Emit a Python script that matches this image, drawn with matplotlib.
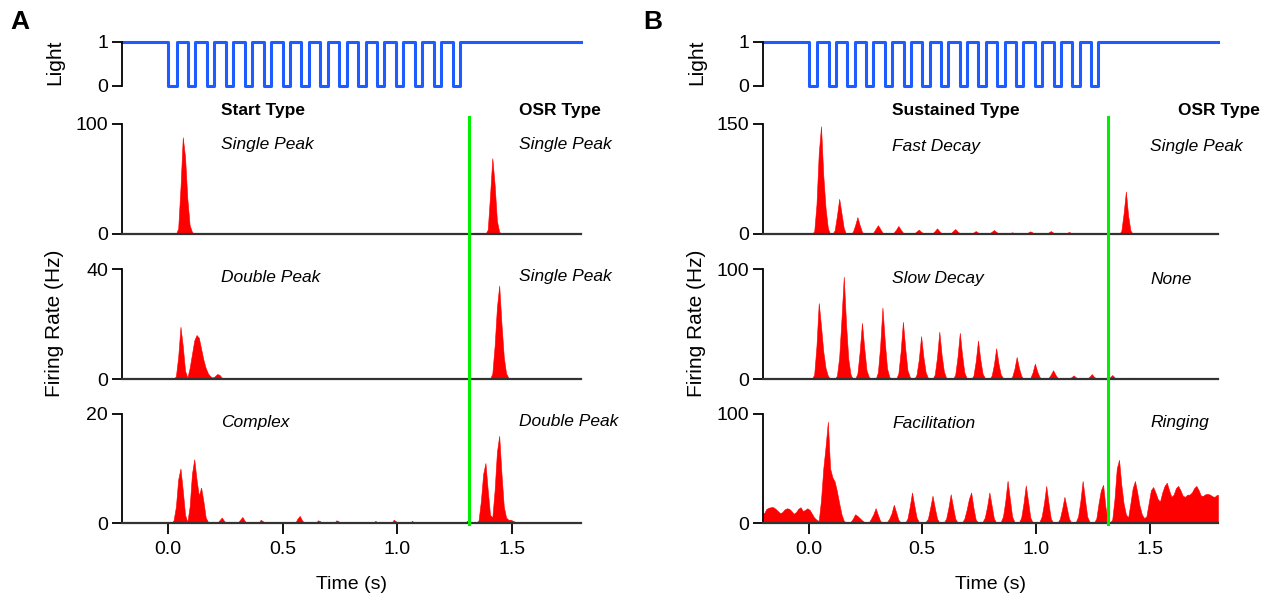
import numpy as np
import matplotlib
matplotlib.use('Agg')
import matplotlib.pyplot as plt
import matplotlib.transforms as mtransforms
from matplotlib.lines import Line2D

plt.rcParams['font.family'] = ['Liberation Sans', 'DejaVu Sans']

BIN = 0.01  # histogram bin width (s)

# light stimulus: off at 0, 15 flashes, back on after the train
light_off = 0.0
pulse_on = [0.038, 0.120, 0.203, 0.285, 0.368, 0.450, 0.532, 0.615,
            0.697, 0.780, 0.862, 0.944, 1.027, 1.109, 1.192]
pulse_off = [0.088, 0.170, 0.253, 0.335, 0.418, 0.500, 0.582, 0.665,
             0.747, 0.830, 0.912, 0.994, 1.077, 1.159, 1.242]
light_back = 1.274
osr_line = 1.315

# --- panel A: start type cells (segment start time, bin heights in Hz)
a1_starts = [0.04, 1.39]
a1_heights = [
    [5, 42, 88, 70, 32, 8, 2],
    [4, 35, 69, 45, 12, 2],
]

a2_starts = [0.03, 1.41]
a2_heights = [
    [1, 8, 19, 12, 3, 0.5, 4, 9, 14, 16, 15, 11, 7, 4, 2, 1, 0.5, 1, 1.8, 1.5, 0.5],
    [2, 12, 26, 34, 20, 8, 2, 0.5],
]

a3_starts = [0.02, 0.22, 0.31, 0.40, 0.49, 0.56, 0.65, 0.73, 0.82, 0.90,
             0.98, 1.06, 1.23, 1.30, 1.35]
a3_heights = [
    [0.5, 3, 8, 10, 6, 1.5, 0.2, 3, 9, 11.7, 8, 5, 6.5, 4, 1, 0.2],
    [0.5, 1, 0.4],
    [0.6, 1.1, 0.4],
    [0.6, 0.3],
    [0.2],
    [0.8, 1.3, 0.5],
    [0.5, 0.3],
    [0.5, 0.3],
    [0.2],
    [0.4],
    [0.6, 0.3],
    [0.4],
    [0.2],
    [0.4],
    [0.5, 4, 9, 11, 6, 1.5, 1, 6, 13, 16, 9, 3, 1, 0.6, 0.6, 0.4, 0.2],
]

# --- panel B: sustained type cells
b1_starts = [-0.03, 0.11, 0.19, 0.28, 0.37, 0.46, 0.54, 0.62, 0.71, 0.79,
             0.87, 0.95, 1.04, 1.12, 1.21, 1.29, 1.37]
b1_heights = [
    [0.5, 0.5, 0.5, 0.5, 1, 3, 40, 110, 147, 80, 35, 8],
    [5, 25, 48, 28, 8],
    [3, 12, 23, 12, 3],
    [2, 7, 12, 7, 2],
    [2, 6, 11, 6, 2],
    [1, 3.5, 6, 3, 1],
    [1, 4, 7.7, 4, 1],
    [1, 4, 6.8, 3.5, 1],
    [0.5, 2, 4, 2, 0.5],
    [0.8, 3, 5.4, 3, 0.8],
    [0.4, 1.2, 2.3, 1.2, 0.4],
    [0.5, 2, 3.6, 2, 0.5],
    [0.5, 2, 4, 2, 0.5],
    [0.4, 1.4, 2.7, 1.4, 0.4],
    [0.5, 1, 0.5],
    [0.3, 1, 1.8, 1, 0.3],
    [4, 28, 58, 25, 5],
]

b2_starts = [0.02, 0.12, 0.21, 0.30, 0.39, 0.47, 0.55, 0.64, 0.72, 0.80,
             0.89, 0.97, 1.05, 1.14, 1.22, 1.31, 1.39]
b2_heights = [
    [4, 30, 69, 48, 25, 10, 3],
    [3, 20, 55, 93, 50, 18, 4],
    [5, 25, 51, 28, 8, 2],
    [6, 30, 65, 35, 10, 2],
    [5, 25, 52, 28, 8, 2],
    [4, 18, 39, 20, 6, 1],
    [4, 20, 43, 22, 7, 1],
    [4, 20, 42, 22, 6, 1],
    [3, 16, 35, 18, 5, 1],
    [3, 13, 28, 14, 4, 1],
    [2, 9, 20, 10, 3],
    [1, 6, 14, 7, 2],
    [1, 4, 8, 4, 1],
    [0.5, 1.5, 3.3, 1.5, 0.5],
    [0.5, 2, 4.5, 2, 0.5],
    [0.5, 1.5, 3.6, 1.5, 0.5],
    [0.5, 1.2, 0.5],
]

b3_starts = [-0.20]
b3_heights = [[
    9, 13, 14, 14.5, 14.5, 13, 11, 9, 10, 12.5, 13.5, 13, 11, 8.5, 10, 13, 14.5, 11, 12, 13.5,
    12, 8.5, 5, 3, 2, 21, 50, 70, 93, 50, 42, 38, 29, 18, 8, 2, 0.5, 0.3, 1, 4,
    8, 6.5, 4.5, 2.5, 1, 0.3, 0.5, 4, 8, 13.6, 7.5, 2, 0.3, 0.3, 1, 4, 9, 16.7, 10, 3,
    0.5, 0.3, 0.5, 4, 15, 28, 16, 5, 1, 0.3, 0.5, 1, 4, 14, 25, 14, 4, 0.5, 0.3, 0.5,
    4, 14, 26.4, 15, 4, 0.5, 0.3, 0.5, 4, 12, 22, 28, 14, 3, 0.5, 0.3, 1, 5, 15, 28,
    16, 4, 0.5, 0.3, 1, 6, 20, 38.8, 22, 6, 1, 0.3, 0.5, 5, 18, 34.5, 20, 5, 0.5, 0.3,
    0.5, 1, 6, 18, 34, 18, 4, 0.5, 0.3, 0.5, 4, 13, 24, 14, 4, 0.5, 0.3, 1, 6, 20,
    38.6, 22, 6, 1, 0.3, 0.5, 4, 18, 30, 35, 15, 3, 0.5, 3, 22, 50, 58, 35, 18, 8,
    5, 18, 32, 38.5, 28, 16, 8, 4.5, 6, 18, 30, 33, 28, 22, 19.7, 28, 34, 37, 30, 24,
    26, 32, 34, 30, 25, 24, 26, 26, 28, 32, 34, 30, 25, 25, 26.5, 26.7, 26, 24.5, 24, 25.8,
]]

ymax_a = [100, 40, 20]
ymax_b = [150, 100, 100]
head_a = ['Start Type', 'OSR Type']
head_b = ['Sustained Type', 'OSR Type']
kind_a = [('Single Peak', 'Single Peak'), ('Double Peak', 'Single Peak'), ('Complex', 'Double Peak')]
kind_b = [('Fast Decay', 'Single Peak'), ('Slow Decay', 'None'), ('Facilitation', 'Ringing')]
xticks = [0.0, 0.5, 1.0, 1.5]

W, H = 1262, 602
fig = plt.figure(figsize=(W / 100, H / 100), dpi=100)
edges = np.round(np.arange(-0.2, 1.8 + BIN / 2, BIN), 3)
centers = edges[:-1] + BIN / 2


def px_axes(x0, x1, ytop, ybot):
    return fig.add_axes([x0 / W, 1 - ybot / H, (x1 - x0) / W, (ybot - ytop) / H])


def style(ax, ymax, labels, bottom=True):
    ax.set_xlim(-0.2, 1.8)
    ax.set_ylim(0, ymax)
    ax.set_facecolor('none')
    for s in ['top', 'right']:
        ax.spines[s].set_visible(False)
    ax.spines['left'].set_linewidth(1.3)
    ax.spines['bottom'].set_linewidth(1.6)
    ax.spines['bottom'].set_color('#333333')
    ax.spines['bottom'].set_visible(bottom)
    ax.set_yticks([0, ymax])
    ax.set_yticklabels(labels)
    ax.tick_params(axis='y', direction='out', length=7, width=1.3, labelsize=14, pad=3)
    ax.set_xticks([])


def draw_hist(ax, starts, heights):
    counts = np.zeros(len(centers))
    for s, hh in zip(starts, heights):
        i0 = int(round((s - edges[0]) / BIN))
        counts[i0:i0 + len(hh)] = hh
    x = np.concatenate([[edges[0]], centers, [edges[-1]]])
    y = np.concatenate([[counts[0]], counts, [counts[-1]]])
    ax.fill_between(x, 0, y, color='#ff0000', linewidth=0.4, edgecolor='#ff0000', zorder=1)


cols = [
    (122, 580.6, ymax_a, [(a1_starts, a1_heights), (a2_starts, a2_heights), (a3_starts, a3_heights)],
     head_a, kind_a, 'A', 10, 55, (221, 519), (221, 519)),
    (763, 1218, ymax_b, [(b1_starts, b1_heights), (b2_starts, b2_heights), (b3_starts, b3_heights)],
     head_b, kind_b, 'B', 643, 697, (892, 1178), (892, 1150)),
]
rows = [(124, 234), (269, 379), (414, 523)]
italic_y = [[145, 277, 422], [147, 279, 423]]

for ci, (x0, x1, ymaxs, data, heads, kinds, letter, lx, ylx, hx, kx) in enumerate(cols):
    # light trace
    axl = px_axes(x0, x1, 42, 86)
    style(axl, 1, ['0', '1'], bottom=False)
    t = [-0.2, light_off]
    lv = [1, 0]
    for on, off in zip(pulse_on, pulse_off):
        t += [on, off]
        lv += [1, 0]
    t += [light_back, 1.8]
    lv += [1, 1]
    axl.step(t, lv, where='post', color='#1f5cff', lw=2.2, clip_on=False)
    fig.text(ylx / W, 1 - 62 / H, 'Light', rotation=90, ha='center', va='center', fontsize=15)

    axes = []
    for ri, ((ytop, ybot), ymax, (st, hh)) in enumerate(zip(rows, ymaxs, data)):
        ax = px_axes(x0, x1, ytop, ybot)
        style(ax, ymax, ['0', str(ymax)])
        draw_hist(ax, st, hh)
        axes.append(ax)
        fig.text(kx[0] / W, 1 - italic_y[ci][ri] / H, kinds[ri][0], style='italic',
                 ha='left', va='center', fontsize=12.5)
        fig.text(kx[1] / W, 1 - italic_y[ci][ri] / H, kinds[ri][1], style='italic',
                 ha='left', va='center', fontsize=12.5)

    ax3 = axes[-1]
    ax3.set_xticks(xticks)
    ax3.set_xticklabels(['0.0', '0.5', '1.0', '1.5'])
    ax3.tick_params(axis='x', direction='out', length=8, width=1.3, labelsize=14, pad=5)
    ax3.set_xlabel('Time (s)', fontsize=14, labelpad=13)

    fig.text(ylx / W, 1 - 323 / H, 'Firing Rate (Hz)', rotation=90, ha='center', va='center', fontsize=15)
    fig.text(hx[0] / W, 1 - 111 / H, heads[0], fontweight='bold', ha='left', va='center', fontsize=12.5)
    fig.text(hx[1] / W, 1 - 111 / H, heads[1], fontweight='bold', ha='left', va='center', fontsize=12.5)
    fig.text(lx / W, 1 - 22 / H, letter, fontweight='bold', ha='left', va='center', fontsize=19)

    # OSR marker spanning all three histogram rows
    tr = mtransforms.blended_transform_factory(ax3.transData, fig.transFigure)
    fig.add_artist(Line2D([osr_line, osr_line], [1 - 117 / H, 1 - 524 / H], transform=tr,
                          color='#00ee00', lw=2.2, zorder=5))

fig.savefig('out.png', dpi=100)
